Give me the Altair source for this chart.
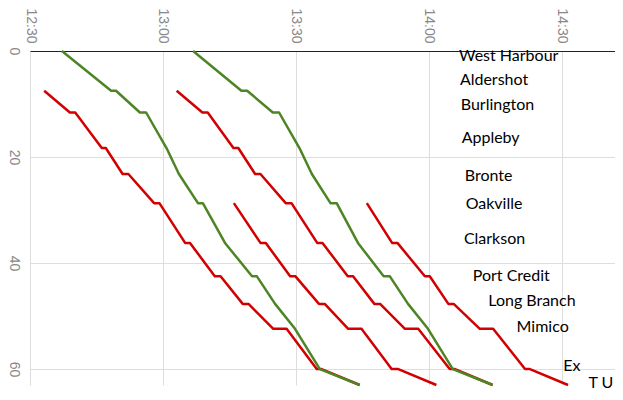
import altair as alt
import pandas as pd

# ---- data (minutes after 12:00, distance along the line) ----
g1_km = [0, 7.5, 7.5, 11.6, 11.6, 18.3, 23.2, 28.7, 28.7, 36.2, 42.5, 42.5, 47.7, 52.4, 60, 63]
g1_min = [37.2, 48.3, 49.4, 54.8, 56.2, 60.8, 63.6, 67.9, 69.0, 74.0, 80.1, 81.2, 85.3, 89.8, 95.4, 104.4]

g2_km = [0, 7.5, 7.5, 11.6, 11.6, 18.3, 23.2, 28.7, 28.7, 36.2, 42.5, 42.5, 47.7, 52.4, 60, 63]
g2_min = [66.8, 77.7, 79.0, 84.8, 86.2, 90.8, 93.6, 97.8, 99.2, 104.0, 109.8, 111.2, 115.3, 119.8, 125.4, 134.4]

r1_km = [7.5, 11.6, 11.6, 18.3, 18.3, 23.2, 23.2, 28.7, 28.7, 36.2, 36.2, 42.5, 42.5, 47.7, 47.7, 52.4, 52.4, 60, 60, 63]
r1_min = [33.2, 39.0, 40.2, 46.2, 47.1, 50.9, 52.2, 58.0, 59.2, 65.0, 66.1, 71.7, 73.0, 78.0, 79.3, 84.9, 87.9, 94.7, 95.8, 104.4]

r2_km = [7.5, 11.6, 11.6, 18.3, 18.3, 23.2, 23.2, 28.7, 28.7, 36.2, 36.2, 42.5, 42.5, 47.7, 47.7, 52.4, 52.4, 60, 60, 63]
r2_min = [63.1, 68.9, 70.1, 75.9, 77.0, 80.8, 82.0, 87.7, 89.0, 94.8, 96.0, 101.7, 102.9, 107.7, 109.0, 114.6, 117.6, 124.7, 125.9, 134.4]

r3_km = [28.7, 36.2, 36.2, 42.5, 42.5, 47.7, 47.7, 52.4, 52.4, 60, 60, 63]
r3_min = [76.0, 82.0, 83.2, 88.7, 89.9, 95.2, 96.5, 101.8, 104.8, 111.6, 113.1, 121.7]

r4_km = [28.7, 36.2, 36.2, 42.5, 42.5, 47.7, 47.7, 52.4, 52.4, 60, 60, 63]
r4_min = [106.0, 111.7, 112.9, 119.1, 120.2, 124.4, 125.6, 131.5, 134.5, 141.7, 142.8, 151.4]

label_names = ["West Harbour", "Aldershot", "Burlington", "Appleby", "Bronte", "Oakville",
               "Clarkson", "Port Credit", "Long Branch", "Mimico", "Ex", "T U"]
label_min = [126.8, 127.0, 127.2, 127.4, 128.1, 128.3, 127.9, 129.9, 133.4, 139.8, 150.3, 156.0]
label_km = [0.9, 5.5, 10.2, 16.4, 23.5, 28.9, 35.5, 42.4, 47.2, 52.1, 59.5, 62.7]

tick_min = [30, 60, 90, 120, 150]
tick_km = [0, 20, 40, 60]

trains = [
    ("R1", "local", r1_km, r1_min),
    ("R2", "local", r2_km, r2_min),
    ("R3", "local", r3_km, r3_min),
    ("R4", "local", r4_km, r4_min),
    ("G1", "express", g1_km, g1_min),
    ("G2", "express", g2_km, g2_min),
]

rows = []
for i, (name, kind, kms, mins) in enumerate(trains):
    for j, (k, m) in enumerate(zip(kms, mins)):
        rows.append({"train": name, "kind": kind, "km": k, "min": m, "seq": j, "layer": i})
df = pd.DataFrame(rows)

labels = pd.DataFrame({"name": label_names, "min": label_min, "km": label_km})

xscale = alt.Scale(domain=[30, 162], nice=False, zero=False)
yscale = alt.Scale(domain=[0, 63], reverse=True, nice=False, zero=False)

label_expr = "(12 + floor(datum.value / 60)) + ':' + (datum.value % 60 < 10 ? '0' : '') + (datum.value % 60)"

x_enc = alt.X("min:Q", scale=xscale, axis=alt.Axis(
    orient="top", values=tick_min, labelExpr=label_expr, title=None,
    labelAngle=90, ticks=False, labelPadding=8, grid=True, gridColor="#dddddd",
    domain=True, domainColor="#222222", labelColor="#888888",
    labelFont="Liberation Sans", labelFontSize=14))
y_enc = alt.Y("km:Q", scale=yscale, axis=alt.Axis(
    values=tick_km, title=None, labelAngle=90, ticks=False, labelPadding=10,
    grid=True, gridColor="#dddddd", domain=False, labelColor="#888888",
    labelFont="Liberation Sans", labelFontSize=14))

lines = alt.Chart(df).mark_line(strokeWidth=2.5, strokeJoin="round").encode(
    x=x_enc,
    y=y_enc,
    detail="train:N",
    color=alt.Color("kind:N", scale=alt.Scale(domain=["local", "express"],
                                              range=["#d20000", "#4e8524"]), legend=None),
    order=alt.Order("seq:Q"),
)

text = alt.Chart(labels).mark_text(align="left", baseline="middle", font="Lato",
                                   fontSize=16, color="black").encode(
    x=alt.X("min:Q", scale=xscale),
    y=alt.Y("km:Q", scale=yscale),
    text="name:N",
)

chart = alt.layer(lines, text).properties(
    width=585, height=334,
    autosize=alt.AutoSizeParams(type="none"),
    padding={"left": 22, "top": 43, "right": 0, "bottom": 8},
).configure_view(stroke=None)

chart.save("out.html", embed_options={"renderer": "svg", "actions": False})
